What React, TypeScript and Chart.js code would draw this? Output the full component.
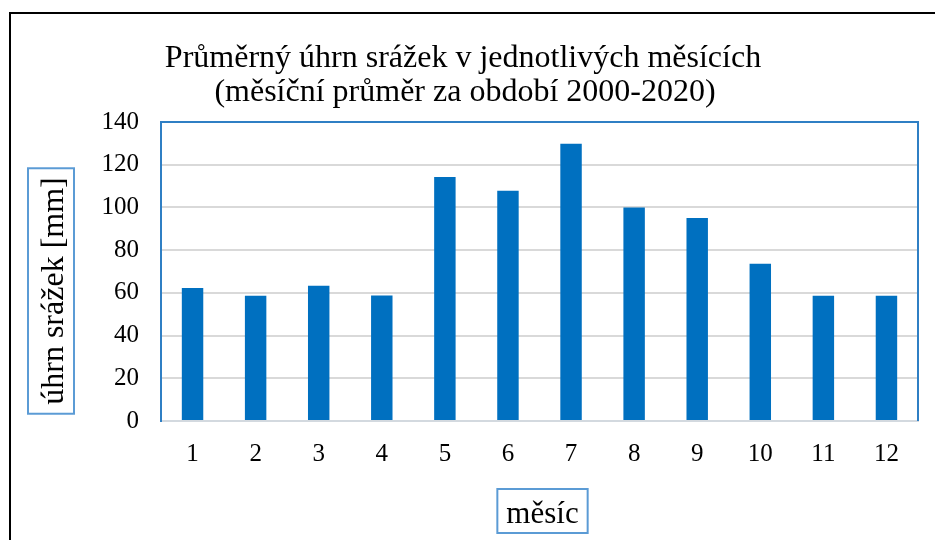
import { useEffect, useRef } from "react";
import { Chart, registerables } from "chart.js";

Chart.register(...registerables);

const months = ["1", "2", "3", "4", "5", "6", "7", "8", "9", "10", "11", "12"];
const precipitation = [62.3, 58.6, 63.3, 58.8, 114.3, 107.8, 129.8, 100.0, 95.0, 73.6, 58.6, 58.6];
const titleLines = [
  "Průměrný úhrn srážek v jednotlivých měsících",
  "(měsíční průměr za období 2000-2020)",
];
const yAxisTitle = "úhrn srážek [mm]";
const xAxisTitle = "měsíc";
const yMin = 0;
const yMax = 140;
const yStep = 20;

const FONT = "'Liberation Serif', 'Times New Roman', serif";

const decorPlugin = {
  id: "decor",
  afterDraw(chart: any) {
    const { ctx, chartArea: a } = chart;
    ctx.save();
    // top and right border of plot area
    ctx.strokeStyle = "#2f7fc4";
    ctx.lineWidth = 2;
    ctx.beginPath();
    ctx.moveTo(a.left, a.top);
    ctx.lineTo(a.right, a.top);
    ctx.lineTo(a.right, a.bottom);
    ctx.stroke();

    // chart title
    ctx.fillStyle = "#000";
    ctx.textAlign = "center";
    ctx.textBaseline = "alphabetic";
    ctx.font = `32px ${FONT}`;
    ctx.fillText(titleLines[0], 463, 67);
    ctx.fillText(titleLines[1], 465, 101);

    // y axis title in box
    ctx.font = `32px ${FONT}`;
    const yw = ctx.measureText(yAxisTitle).width;
    ctx.save();
    ctx.translate(51, 291);
    ctx.rotate(-Math.PI / 2);
    ctx.fillText(yAxisTitle, 0, 12);
    ctx.strokeStyle = "#5b9bd5";
    ctx.lineWidth = 2;
    ctx.strokeRect(-yw / 2 - 9, -23, yw + 18, 46);
    ctx.restore();

    // x axis title in box
    ctx.font = `31px ${FONT}`;
    const cx = (a.left + a.right) / 2;
    const xw = ctx.measureText(xAxisTitle).width;
    ctx.fillText(xAxisTitle, cx + 3, 523);
    ctx.strokeStyle = "#5b9bd5";
    ctx.lineWidth = 2;
    ctx.strokeRect(cx + 3 - xw / 2 - 9, 489, xw + 18, 44);
    ctx.restore();
  },
};

export default function App() {
  const ref = useRef<HTMLCanvasElement>(null);

  useEffect(() => {
    if (!ref.current) return;
    const chart = new Chart(ref.current, {
      type: "bar",
      data: {
        labels: months,
        datasets: [
          {
            data: precipitation,
            backgroundColor: "#0070C0",
            borderWidth: 0,
            barPercentage: 0.68,
            categoryPercentage: 0.5,
          },
        ],
      },
      options: {
        responsive: false,
        animation: false,
        devicePixelRatio: 1,
        layout: { padding: { left: 101, top: 122, right: 17, bottom: 0 } },
        plugins: {
          legend: { display: false },
          title: { display: false },
          tooltip: { enabled: false },
        },
        scales: {
          x: {
            afterFit: (s: any) => {
              s.height = 119;
            },
            grid: { display: false, drawTicks: false },
            border: { display: true, color: "#d3d9df", width: 2 },
            ticks: {
              color: "#000",
              padding: 18,
              font: { family: FONT, size: 25 },
            },
          },
          y: {
            min: yMin,
            max: yMax,
            afterFit: (s: any) => {
              s.width = 60;
            },
            grid: { color: "#d9d9d9", lineWidth: 2, drawTicks: false },
            border: { display: true, color: "#2f7fc4", width: 2 },
            ticks: {
              stepSize: yStep,
              color: "#000",
              padding: 22,
              font: { family: FONT, size: 25 },
            },
          },
        },
      },
      plugins: [decorPlugin],
    });
    return () => chart.destroy();
  }, []);

  return (
    <div
      style={{
        position: "fixed",
        left: 0,
        top: 0,
        width: 935,
        height: 540,
        overflow: "hidden",
        background: "#fff",
      }}
    >
      <div
        style={{
          position: "absolute",
          left: 9,
          top: 12,
          width: 1100,
          height: 700,
          border: "2px solid #000",
        }}
      />
      <canvas
        ref={ref}
        width={935}
        height={540}
        style={{ position: "absolute", left: 0, top: 0, width: 935, height: 540 }}
      />
    </div>
  );
}
